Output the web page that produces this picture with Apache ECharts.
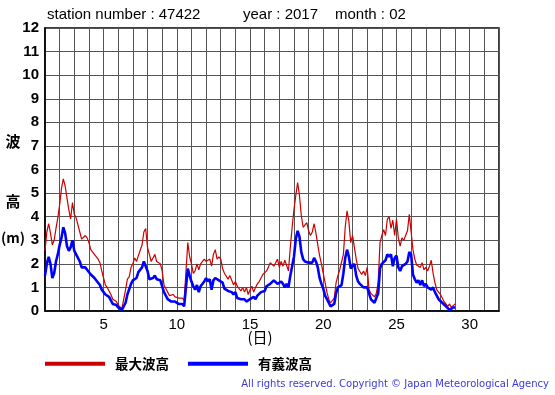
<!DOCTYPE html>
<html><head><meta charset="utf-8">
<script src="https://cdn.jsdelivr.net/npm/echarts@6/dist/echarts.min.js"></script>
<style>html,body{margin:0;padding:0;background:#fff}#c{width:555px;height:395px}</style>
</head><body><div id="c"></div>
<script>
// 3-hourly samples starting Feb 1 00:00 (day 1.0) to Mar 1 00:00 (day 29.0)
const startDay = 1;
const stepDay = 0.125;
const maxWave = [
 2.55,3.35,3.7,3.3,2.8,3.0,3.5,3.95,
 4.5,5.2,5.6,5.3,4.8,4.3,3.9,4.6,
 4.1,3.95,3.65,3.35,3.05,3.05,3.2,3.1,
 2.9,2.6,2.55,2.4,2.4,2.2,2.05,1.7,
 1.4,1.1,1.0,0.95,0.7,0.5,0.5,0.4,
 0.25,0.2,0.1,0.05,0.9,1.35,1.45,1.85,
 2.0,2.25,2.1,2.35,2.4,2.8,3.35,3.5,
 2.7,2.4,2.1,2.25,2.4,2.1,2.15,2.0,
 1.7,1.1,0.95,0.8,0.65,0.65,0.7,0.6,
 0.6,0.55,0.5,0.55,0.45,0.5,2.9,2.3,
 2.0,1.6,1.7,2.0,1.75,2.0,1.95,2.2,
 2.1,2.1,2.2,1.9,2.4,2.6,2.2,2.3,
 2.2,1.8,1.6,1.6,1.35,1.5,1.3,1.1,
 1.25,1.05,0.95,0.85,1.0,0.8,1.0,0.7,
 0.9,1.05,0.8,1.0,1.15,1.25,1.4,1.55,
 1.5,1.7,1.85,2.05,2.1,1.9,2.05,2.2,
 1.85,2.1,1.9,2.15,2.2,1.7,2.7,3.55,
 4.3,4.9,5.45,4.9,4.05,3.55,3.5,3.75,
 3.4,3.2,3.35,3.7,3.3,2.8,2.35,2.0,
 1.6,1.2,0.8,0.5,0.35,0.3,0.55,1.2,
 1.5,1.75,1.8,2.4,3.55,4.25,3.8,2.9,
 3.2,3.2,2.2,1.8,1.75,1.55,1.7,1.5,
 1.85,0.9,0.75,0.7,0.6,0.75,1.2,2.9,
 3.2,3.45,3.2,3.9,4.0,3.5,3.85,3.2,
 3.9,3.1,2.75,3.1,3.0,3.2,3.4,4.1,
 4.05,2.6,2.2,1.95,2.0,1.85,2.05,1.75,
 1.85,1.7,1.9,2.15,1.6,1.2,0.9,0.8,
 0.7,0.55,0.4,0.3,0.2,0.3,0.15,0.2,
 0.3
];
const sigWave = [
 1.5,2.0,2.3,2.0,1.4,1.6,2.1,2.4,
 2.8,3.1,3.55,3.3,2.75,2.55,2.7,3.0,
 2.55,2.4,2.45,2.1,1.85,1.85,1.85,1.75,
 1.7,1.55,1.5,1.4,1.35,1.2,1.1,0.9,
 0.8,0.7,0.65,0.6,0.45,0.3,0.3,0.25,
 0.15,0.1,0.05,0.0,0.35,0.7,0.75,1.15,
 1.3,1.35,1.4,1.65,1.6,1.85,2.1,2.1,
 1.7,1.35,1.3,1.4,1.5,1.35,1.4,1.3,
 1.3,0.8,0.65,0.5,0.45,0.4,0.4,0.4,
 0.35,0.3,0.3,0.3,0.2,0.25,1.8,1.5,
 1.25,1.05,0.9,1.1,0.8,1.05,1.0,1.25,
 1.4,1.25,1.35,0.9,1.3,1.4,1.35,1.3,
 1.35,1.2,0.95,1.0,0.85,0.9,0.8,0.7,
 0.8,0.55,0.6,0.5,0.55,0.5,0.4,0.35,
 0.5,0.55,0.6,0.5,0.65,0.7,0.8,0.75,
 0.85,1.05,1.0,1.15,1.2,1.3,1.25,1.15,
 1.1,1.25,1.15,1.0,1.15,1.0,1.5,1.9,
 2.3,3.05,3.4,3.15,2.5,2.2,2.1,2.15,
 2.05,2.0,2.05,2.25,2.1,1.85,1.4,1.15,
 0.95,0.65,0.5,0.35,0.2,0.15,0.3,0.75,
 1.0,1.05,1.1,1.6,2.25,2.6,2.3,1.8,
 1.8,2.0,1.5,1.25,1.15,1.1,1.0,0.95,
 1.0,0.75,0.5,0.45,0.35,0.35,0.75,1.8,
 2.0,2.05,2.15,2.4,2.3,2.4,1.9,2.25,
 2.35,1.85,1.7,1.9,1.95,2.0,2.1,2.5,
 2.4,1.55,1.35,1.2,1.3,1.1,1.3,1.05,
 1.15,1.0,1.05,0.9,1.0,0.8,0.65,0.5,
 0.45,0.35,0.3,0.2,0.15,0.05,0.1,0.15,
 0.15
];
const xLabelDays = [5,10,15,20,25,30];
const seriesNames = ['最大波高','有義波高'];
const titleParts = ['station number : 47422','year : 2017','month : 02'];
const copyright = 'All rights reserved. Copyright © Japan Meteorological Agency';

const toPairs = arr => arr.map((v,i)=>[startDay + i*stepDay, v]);

const chart = echarts.init(document.getElementById('c'), null, {renderer:'canvas'});
const font = '"Liberation Sans", Arial, sans-serif';
const cjk = '"Noto Sans CJK JP", sans-serif';
chart.setOption({
  animation:false,
  backgroundColor:'#fff',
  grid:{left:45, right:56, top:28, bottom:84, show:true, borderColor:'#000', borderWidth:1.5},
  xAxis:{type:'value', min:1, max:32, interval:1,
    axisLine:{show:true, lineStyle:{color:'#000', width:1.5}},
    axisTick:{show:false},
    splitLine:{show:true, lineStyle:{color:'#555', width:1}},
    axisLabel:{fontFamily:font, fontSize:15, color:'#000', margin:6,
      formatter:v=> xLabelDays.indexOf(v)>=0 ? String(v) : ''}},
  yAxis:{type:'value', min:0, max:12, interval:1,
    axisLine:{show:true, lineStyle:{color:'#000', width:1.5}},
    axisTick:{show:false},
    splitLine:{show:true, lineStyle:{color:'#555', width:1}},
    axisLabel:{fontFamily:font, fontSize:15, fontWeight:'bold', color:'#000', margin:6}},
  legend:{left:45, top:357, padding:0, itemWidth:60, itemHeight:4, itemGap:19, icon:'rect',
    textStyle:{fontFamily:cjk, fontSize:13.5, fontWeight:'bold', color:'#000', padding:[0,0,0,5]},
    data:seriesNames},
  series:[
    {name:seriesNames[0], type:'line', data:toPairs(maxWave), showSymbol:false,
     lineStyle:{color:'#cc0000', width:1.2}, itemStyle:{color:'#cc0000'}},
    {name:seriesNames[1], type:'line', data:toPairs(sigWave), showSymbol:false,
     lineStyle:{color:'#0000ff', width:2.6}, itemStyle:{color:'#0000ff'}}
  ],
  graphic:[
    {type:'text', left:47, top:7, style:{text:titleParts[0], font:'15px '+font, fill:'#000'}},
    {type:'text', left:243, top:7, style:{text:titleParts[1], font:'15px '+font, fill:'#000'}},
    {type:'text', left:335, top:7, style:{text:titleParts[2], font:'15px '+font, fill:'#000'}},
    {type:'text', x:13, y:141, style:{text:'波', font:'bold 15px '+cjk, fill:'#000', align:'center', verticalAlign:'middle'}},
    {type:'text', x:13, y:201, style:{text:'高', font:'bold 15px '+cjk, fill:'#000', align:'center', verticalAlign:'middle'}},
    {type:'text', x:13, y:238, style:{text:'(m)', font:'bold 14px '+cjk, fill:'#000', align:'center', verticalAlign:'middle'}},
    {type:'text', x:260, y:337, style:{text:'(日)', font:'15px '+cjk, fill:'#000', align:'center', verticalAlign:'middle'}},
    {type:'text', right:6, y:384, style:{text:copyright, font:'10px "DejaVu Sans", sans-serif', fill:'#3a3ad8', verticalAlign:'middle'}}
  ]
});
</script></body></html>
